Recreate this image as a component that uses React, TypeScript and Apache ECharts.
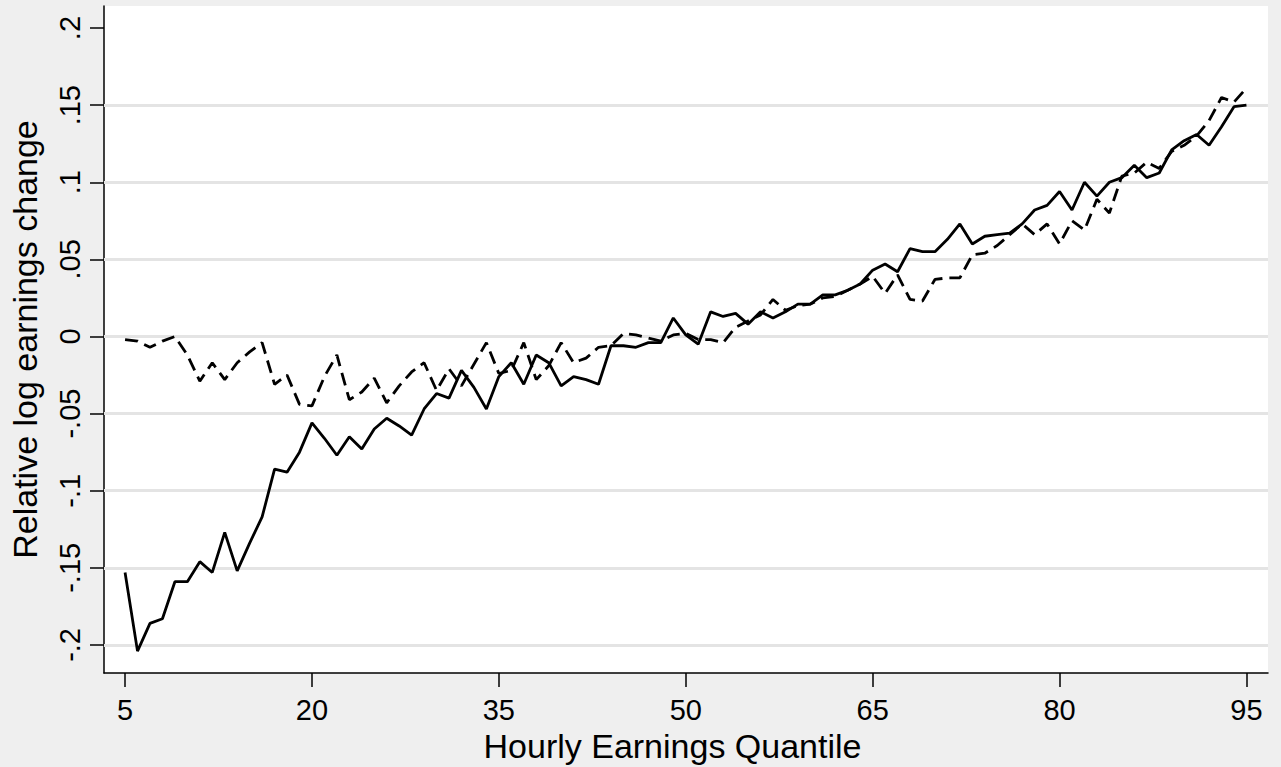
import React, { useEffect, useRef } from "react";
import * as echarts from "echarts";

const quantiles = [
  5, 6, 7, 8, 9, 10, 11, 12, 13, 14, 15, 16, 17, 18, 19, 20, 21, 22, 23, 24,
  25, 26, 27, 28, 29, 30, 31, 32, 33, 34, 35, 36, 37, 38, 39, 40, 41, 42, 43, 44,
  45, 46, 47, 48, 49, 50, 51, 52, 53, 54, 55, 56, 57, 58, 59, 60, 61, 62, 63, 64,
  65, 66, 67, 68, 69, 70, 71, 72, 73, 74, 75, 76, 77, 78, 79, 80, 81, 82, 83, 84,
  85, 86, 87, 88, 89, 90, 91, 92, 93, 94, 95,
];

const solidSeries = [
  -0.153, -0.204, -0.186, -0.183, -0.159, -0.159, -0.146, -0.153, -0.127, -0.152,
  -0.134, -0.117, -0.086, -0.088, -0.075, -0.056, -0.066, -0.077, -0.065, -0.073,
  -0.06, -0.053, -0.058, -0.064, -0.047, -0.037, -0.04, -0.022, -0.033, -0.047,
  -0.026, -0.017, -0.031, -0.012, -0.017, -0.032, -0.026, -0.028, -0.031, -0.006,
  -0.006, -0.007, -0.004, -0.004, 0.012, 0.001, -0.005, 0.016, 0.013, 0.015,
  0.008, 0.016, 0.012, 0.016, 0.021, 0.021, 0.027, 0.027, 0.03, 0.034,
  0.043, 0.047, 0.042, 0.057, 0.055, 0.055, 0.063, 0.073, 0.06, 0.065,
  0.066, 0.067, 0.073, 0.082, 0.085, 0.094, 0.082, 0.1, 0.091, 0.1,
  0.103, 0.111, 0.103, 0.106, 0.121, 0.127, 0.131, 0.124, 0.136, 0.149, 0.15,
];

const dashedSeries = [
  -0.002, -0.003, -0.007, -0.003, 0.0, -0.012, -0.029, -0.017, -0.028, -0.017,
  -0.01, -0.004, -0.031, -0.025, -0.044, -0.045, -0.026, -0.012, -0.041, -0.036,
  -0.027, -0.043, -0.032, -0.023, -0.017, -0.035, -0.021, -0.032, -0.018, -0.004,
  -0.024, -0.022, -0.004, -0.028, -0.019, -0.004, -0.017, -0.014, -0.007, -0.006,
  0.002, 0.001, -0.001, -0.003, 0.001, 0.002, -0.002, -0.002, -0.004, 0.006,
  0.01, 0.014, 0.024, 0.017, 0.02, 0.021, 0.025, 0.026, 0.03, 0.034,
  0.039, 0.028, 0.04, 0.024, 0.023, 0.037, 0.038, 0.038, 0.053, 0.054,
  0.059, 0.066, 0.073, 0.066, 0.073, 0.06, 0.075, 0.069, 0.089, 0.08,
  0.104, 0.106, 0.113, 0.109, 0.12, 0.124, 0.13, 0.14, 0.155, 0.152, 0.161,
];

const xTicks = [5, 20, 35, 50, 65, 80, 95];
const yTicks = [-0.2, -0.15, -0.1, -0.05, 0, 0.05, 0.1, 0.15, 0.2];
const gridValues = [-0.2, -0.15, -0.1, -0.05, 0, 0.05, 0.1, 0.15];

const xTitle = "Hourly Earnings Quantile";
const yTitle = "Relative log earnings change";

const FONT = "'Liberation Sans', Arial, Helvetica, sans-serif";

function stataFormat(v: number): string {
  if (v === 0) return "0";
  return String(v).replace("0.", ".");
}

export default function App() {
  const ref = useRef<HTMLDivElement>(null);

  useEffect(() => {
    if (!ref.current) return;
    const chart = echarts.init(ref.current, undefined, { renderer: "svg" });
    const solidData = quantiles.map((q, i) => [q, solidSeries[i]]);
    const dashedData = quantiles.map((q, i) => [q, dashedSeries[i]]);

    chart.setOption({
      animation: false,
      backgroundColor: "#efefef",
      grid: {
        left: 104,
        right: 13,
        top: 6,
        bottom: 94,
        show: true,
        containLabel: false,
        outerBoundsMode: "none",
        backgroundColor: "#ffffff",
        borderWidth: 0,
      },
      xAxis: {
        type: "value",
        min: 3.31,
        max: 96.73,
        name: xTitle,
        nameLocation: "middle",
        nameGap: 48,
        nameTextStyle: {
          fontFamily: FONT,
          fontSize: 34,
          color: "#000",
          padding: [0, 27, 0, 0],
        },
        axisLine: { show: true, onZero: false, lineStyle: { color: "#000", width: 1.5 } },
        axisTick: {
          show: true,
          customValues: xTicks,
          length: 14,
          lineStyle: { color: "#000", width: 1.5 },
        },
        axisLabel: {
          customValues: xTicks,
          margin: 22,
          fontFamily: FONT,
          fontSize: 29,
          color: "#000",
        },
        splitLine: { show: false },
      },
      yAxis: {
        type: "value",
        min: -0.2182,
        max: 0.2143,
        name: yTitle,
        nameLocation: "middle",
        nameGap: 62,
        nameTextStyle: {
          fontFamily: FONT,
          fontSize: 34,
          color: "#000",
        },
        axisLine: { show: true, onZero: false, lineStyle: { color: "#000", width: 1.5 } },
        axisTick: {
          show: true,
          customValues: yTicks,
          length: 14,
          lineStyle: { color: "#000", width: 1.5 },
        },
        axisLabel: {
          customValues: yTicks,
          rotate: 90,
          margin: 20,
          fontFamily: FONT,
          fontSize: 29,
          color: "#000",
          formatter: (v: number) => stataFormat(v),
        },
        splitLine: { show: false },
      },
      series: [
        {
          type: "line",
          name: "grid",
          data: [],
          z: 1,
          silent: true,
          markLine: {
            z: 1,
            silent: true,
            symbol: "none",
            label: { show: false },
            lineStyle: { color: "#e4e4e4", width: 2.8, type: "solid" },
            data: gridValues.map((v) => ({ yAxis: v })),
          },
        },
        {
          type: "line",
          name: "Dashed",
          data: dashedData,
          z: 3,
          showSymbol: false,
          symbol: "none",
          lineStyle: { color: "#000", width: 2.8, type: [13, 7] },
        },
        {
          type: "line",
          name: "Solid",
          data: solidData,
          z: 4,
          showSymbol: false,
          symbol: "none",
          lineStyle: { color: "#000", width: 2.8, type: "solid" },
        },
      ],
    });

    return () => {
      chart.dispose();
    };
  }, []);

  return (
    <div
      ref={ref}
      style={{ position: "absolute", left: 0, top: 0, width: 1281, height: 767 }}
    />
  );
}
